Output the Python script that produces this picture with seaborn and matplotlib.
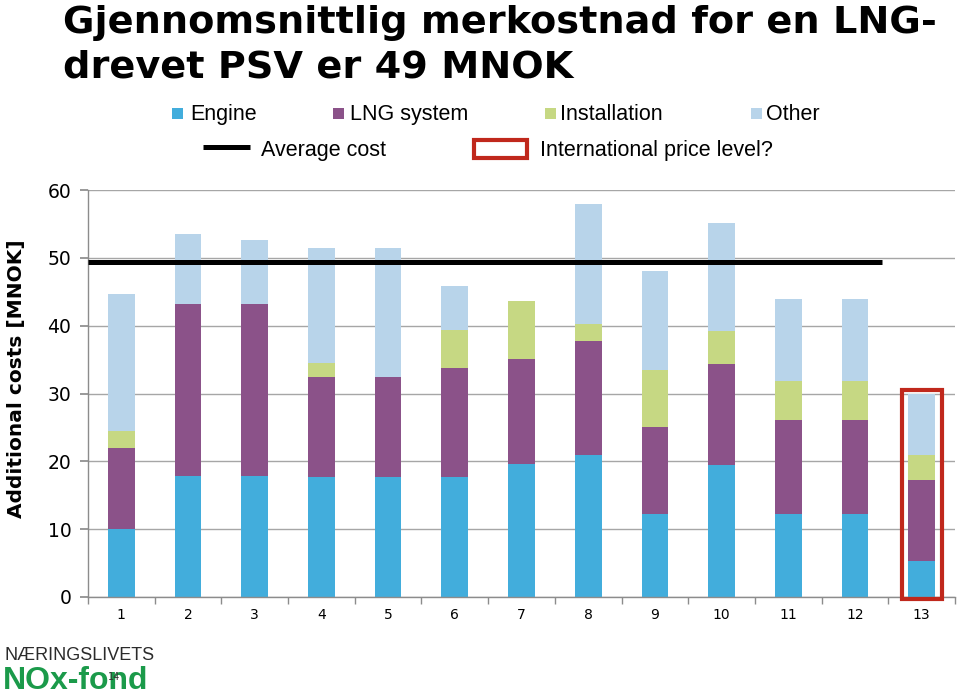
import matplotlib
matplotlib.use("Agg")
import matplotlib.pyplot as plt
import seaborn as sns
import pandas as pd
import numpy as np
from matplotlib.patches import Rectangle
from matplotlib.lines import Line2D

sns.set_theme(style="white")
plt.rcParams["font.family"] = ["DejaVu Sans"]
plt.rcParams["text.color"] = "black"

# ---- data ----
categories = [str(i) for i in range(1, 14)]
engine = [10.0, 17.9, 17.9, 17.7, 17.7, 17.7, 19.6, 20.9, 12.2, 19.4, 12.2, 12.2, 5.3]
lng_system = [12.0, 25.3, 25.3, 14.7, 14.7, 16.0, 15.5, 16.8, 12.8, 15.0, 13.9, 13.9, 11.9]
installation = [2.4, 0.0, 0.0, 2.1, 0.0, 5.6, 8.5, 2.5, 8.5, 4.8, 5.7, 5.7, 3.8]
other = [20.2, 10.3, 9.4, 17.0, 19.1, 6.5, 0.0, 17.8, 14.6, 16.0, 12.1, 12.1, 9.0]
avg_cost = 49.4
yticks = [0, 10, 20, 30, 40, 50, 60]
series_names = ["Engine", "LNG system", "Installation", "Other"]
colors = ["#42ADDC", "#8B5289", "#C6D883", "#B8D4EA"]
title_lines = ["Gjennomsnittlig merkostnad for en LNG-", "drevet PSV er 49 MNOK"]

df = pd.DataFrame({"cat": categories, "Engine": engine, "LNG system": lng_system,
                   "Installation": installation, "Other": other})
cum = df[series_names].cumsum(axis=1)

W, H = 960, 696
fig = plt.figure(figsize=(W / 100, H / 100), dpi=100)
ax = fig.add_axes([88 / W, 1 - 597 / H, 867 / W, 407 / H])

# stacked bars: draw cumulative totals from top layer down
for name, color in reversed(list(zip(series_names, colors))):
    sns.barplot(x=df["cat"], y=cum[name], order=categories, color=color,
                saturation=1, width=0.4, errorbar=None, ax=ax, linewidth=0)

# average line
ax.plot([-0.5, len(categories) - 1.6], [avg_cost, avg_cost], color="black",
        lw=3.6, solid_capstyle="butt", zorder=5)

# highlight rectangle around the last bar
last = len(categories) - 1
total_last = cum["Other"].iloc[-1]
ax.add_patch(Rectangle((last - 0.3, -0.35), 0.6, total_last + 0.8, fill=False,
                       edgecolor="#C0281C", lw=3, clip_on=False, zorder=6))

ax.set_xlim(-0.5, len(categories) - 0.5)
ax.set_ylim(0, 60)
ax.set_yticks(yticks)
ax.set_xlabel("")
ax.set_ylabel("")
ax.yaxis.grid(True, color="#A6A6A6", lw=1)
ax.xaxis.grid(False)
ax.set_axisbelow(True)
for s in ["top", "right"]:
    ax.spines[s].set_visible(False)
for s in ["left", "bottom"]:
    ax.spines[s].set_color("#8C8C8C")
    ax.spines[s].set_linewidth(1)

ax.tick_params(axis="y", which="major", left=True, length=6, color="#8C8C8C",
               direction="out", labelsize=13.5, pad=6, labelcolor="black")
ax.tick_params(axis="x", which="major", bottom=False, length=0, labelsize=10,
               pad=8, labelcolor="black")
ax.set_xticks(np.arange(-0.5, len(categories), 1), minor=True)
ax.tick_params(axis="x", which="minor", bottom=True, length=5, color="#8C8C8C",
               direction="out")

def fx(x):
    return x / W

def fy(y):
    return 1 - y / H

# y label
fig.text(fx(17), fy(379), "Additional costs [MNOK]", rotation=90, ha="center",
         va="center", fontsize=14.5, fontweight="bold")

# title
fig.text(fx(63), fy(33), title_lines[0], ha="left", va="baseline", fontsize=27.5,
         fontweight="bold")
fig.text(fx(63), fy(77), title_lines[1], ha="left", va="baseline", fontsize=27.5,
         fontweight="bold")

# legend row 1
leg_font = dict(fontsize=15.5, family="Liberation Sans", va="baseline", ha="left")
sq_x = [172, 333, 545, 751]
tx_x = [190, 350, 560, 766]
for name, color, sx, tx in zip(series_names, colors, sq_x, tx_x):
    fig.add_artist(Rectangle((fx(sx), fy(119)), 11 / W, 11 / H, transform=fig.transFigure,
                             facecolor=color, edgecolor="none"))
    fig.text(fx(tx), fy(120), name, **leg_font)

# legend row 2
fig.add_artist(Line2D([fx(203), fx(250)], [fy(147), fy(147)], transform=fig.transFigure,
                      color="black", lw=3.6, solid_capstyle="butt"))
fig.text(fx(261), fy(156), "Average cost", **leg_font)
fig.add_artist(Rectangle((fx(474), fy(158)), 53 / W, 18 / H, transform=fig.transFigure,
                         fill=False, edgecolor="#C0281C", lw=3))
fig.text(fx(540), fy(156), "International price level?", **leg_font)

# logo
fig.text(fx(4), fy(655), "NÆRINGSLIVETS", fontsize=13, family="Liberation Sans",
         color="#2B2B2B", va="center", ha="left")
fig.text(fx(3), fy(681), "NOx-fond", fontsize=23, family="Liberation Sans",
         fontweight="bold", color="#1B9A4A", va="center", ha="left")
fig.text(fx(114), fy(677), "14", fontsize=7, color="#333333", ha="center", va="center")

fig.savefig("out.png", dpi=100)
